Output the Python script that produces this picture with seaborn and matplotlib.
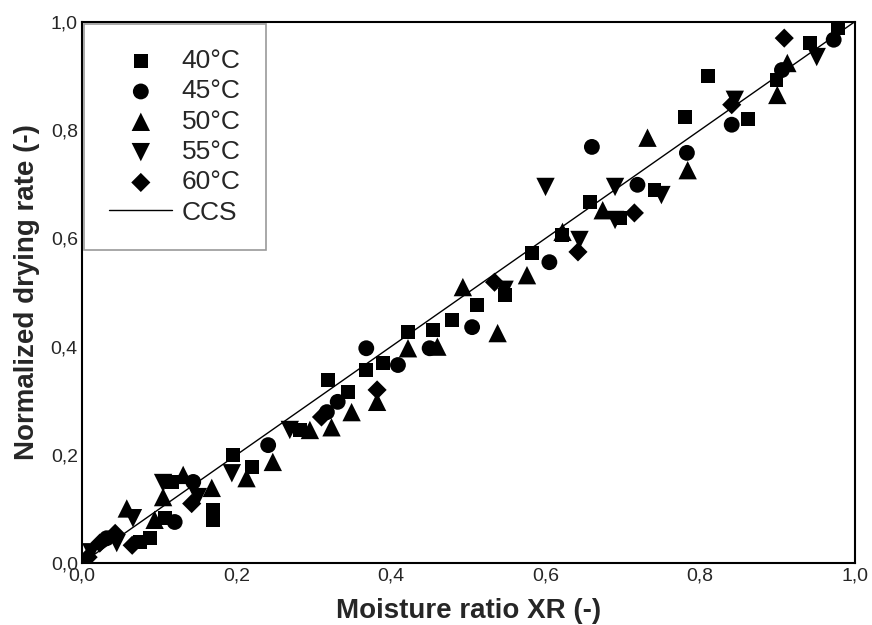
import matplotlib
matplotlib.use("Agg")
import matplotlib.pyplot as plt
import seaborn as sns
import pandas as pd

# data
x40 = [0.978, 0.942, 0.899, 0.81, 0.862, 0.78, 0.741, 0.696, 0.657, 0.621, 0.583, 0.547,
       0.511, 0.479, 0.454, 0.422, 0.39, 0.368, 0.318, 0.344, 0.282, 0.22, 0.195, 0.17,
       0.17, 0.116, 0.107, 0.088, 0.075]
y40 = [0.989, 0.961, 0.893, 0.90, 0.82, 0.824, 0.69, 0.638, 0.667, 0.606, 0.573, 0.495,
       0.477, 0.449, 0.43, 0.427, 0.37, 0.357, 0.338, 0.316, 0.246, 0.178, 0.2, 0.098,
       0.08, 0.15, 0.083, 0.046, 0.039]
x45 = [0.973, 0.906, 0.841, 0.783, 0.66, 0.719, 0.605, 0.505, 0.45, 0.409, 0.368, 0.331,
       0.317, 0.241, 0.144, 0.12, 0.032]
y45 = [0.967, 0.911, 0.81, 0.758, 0.769, 0.699, 0.556, 0.436, 0.397, 0.366, 0.397, 0.298,
       0.279, 0.218, 0.15, 0.076, 0.046]
x50 = [0.913, 0.9, 0.732, 0.784, 0.674, 0.622, 0.576, 0.493, 0.538, 0.46, 0.422, 0.382,
       0.349, 0.323, 0.295, 0.247, 0.213, 0.168, 0.131, 0.105, 0.094, 0.058]
y50 = [0.924, 0.865, 0.786, 0.726, 0.652, 0.612, 0.532, 0.51, 0.425, 0.40, 0.397, 0.298,
       0.279, 0.251, 0.246, 0.187, 0.157, 0.139, 0.163, 0.122, 0.08, 0.101]
x55 = [0.951, 0.845, 0.69, 0.75, 0.69, 0.644, 0.6, 0.547, 0.269, 0.194, 0.15, 0.105,
       0.066, 0.045, 0.012]
y55 = [0.935, 0.856, 0.695, 0.68, 0.634, 0.597, 0.695, 0.505, 0.246, 0.166, 0.122, 0.148,
       0.083, 0.037, 0.02]
x60 = [0.909, 0.841, 0.715, 0.642, 0.534, 0.382, 0.31, 0.142, 0.065, 0.043, 0.023, 0.008]
y60 = [0.97, 0.847, 0.647, 0.575, 0.519, 0.32, 0.27, 0.11, 0.033, 0.055, 0.037, 0.011]
ccs_x = [0.0, 1.0]
ccs_y = [0.0, 1.0]

labels = ["40°C", "45°C", "50°C", "55°C", "60°C"]
xs = [x40, x45, x50, x55, x60]
ys = [y40, y45, y50, y55, y60]
mk = ["s", "o", "^", "v", "D"]
sizes = [100, 130, 175, 175, 95]

sns.set_style("white")
plt.rcParams["font.family"] = ["Liberation Sans", "DejaVu Sans"]

fig = plt.figure(figsize=(8.72, 6.25), dpi=100)
ax = fig.add_axes([0.094, 0.099, 0.886, 0.866])

for lab, xv, yv, m, sz in zip(labels, xs, ys, mk, sizes):
    d = pd.DataFrame({"XR": xv, "rate": yv})
    sns.scatterplot(data=d, x="XR", y="rate", marker=m, s=sz, color="black",
                    edgecolor="none", ax=ax, zorder=3, label=lab)
sns.lineplot(x=ccs_x, y=ccs_y, color="black", lw=1.0, ax=ax, label="CCS")

ax.set_xlim(0, 1)
ax.set_ylim(0, 1)
ax.set_xticks([0, 0.2, 0.4, 0.6, 0.8, 1.0])
ax.set_yticks([0, 0.2, 0.4, 0.6, 0.8, 1.0])
ax.set_xticklabels(["0,0", "0,2", "0,4", "0,6", "0,8", "1,0"])
ax.set_yticklabels(["0,0", "0,2", "0,4", "0,6", "0,8", "1,0"])
ax.tick_params(length=0, labelsize=14, pad=3)
for s in ax.spines.values():
    s.set_color("black")
    s.set_linewidth(1.5)

ax.set_xlabel("Moisture ratio XR (-)", fontsize=20, fontweight="bold", labelpad=10)
ax.set_ylabel("Normalized drying rate (-)", fontsize=20, fontweight="bold", labelpad=8)

leg = ax.legend(loc="upper left", fontsize=19, frameon=True, fancybox=False,
                edgecolor="gray", handlelength=2.4, handletextpad=0.35,
                borderpad=0.95, labelspacing=0.24, borderaxespad=0.08)
leg.get_frame().set_linewidth(1.2)

fig.savefig("out.png", dpi=100)
